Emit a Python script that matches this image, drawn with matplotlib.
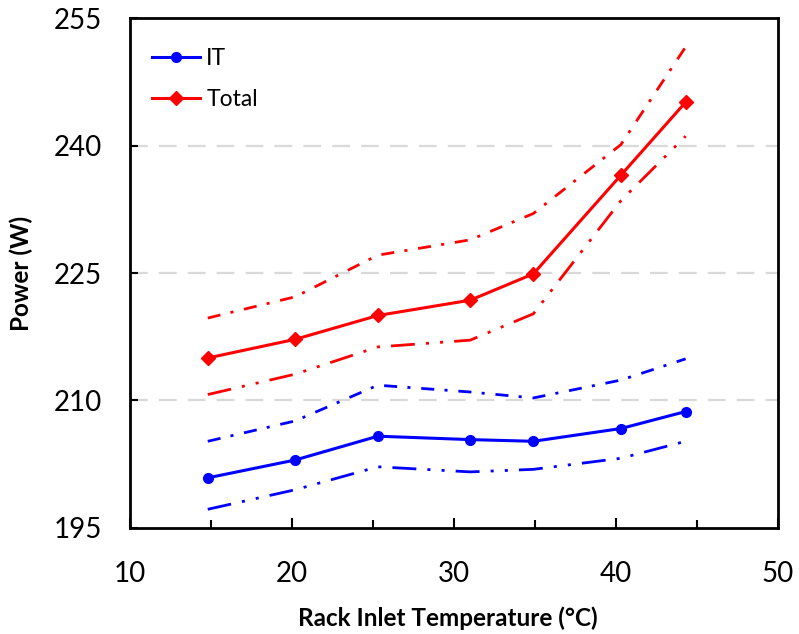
import matplotlib
matplotlib.use("Agg")
import matplotlib.pyplot as plt
from matplotlib.ticker import MultipleLocator

plt.rcParams['font.family'] = ['Lato', 'DejaVu Sans']

# Rack inlet temperature (°C)
temp = [14.8, 20.2, 25.3, 31.0, 34.9, 40.3, 44.3]

# IT power with upper / lower bounds (W)
it_mean = [200.9, 203.0, 205.8, 205.4, 205.2, 206.7, 208.7]
it_upper = [205.2, 207.6, 211.8, 211.0, 210.3, 212.4, 214.9]
it_lower = [197.2, 199.5, 202.2, 201.6, 201.9, 203.2, 205.2]

# Total power with upper / lower bounds (W)
tot_mean = [215.0, 217.2, 220.0, 221.8, 224.9, 236.5, 245.1]
tot_upper = [219.7, 222.2, 227.1, 228.9, 232.0, 240.1, 251.6]
tot_lower = [210.7, 213.1, 216.3, 217.1, 220.2, 233.5, 241.1]

xticks = [10, 20, 30, 40, 50]
yticks = [195, 210, 225, 240, 255]

BLUE = '#0000ff'
RED = '#ff0000'

fig = plt.figure(figsize=(7.99, 6.34), dpi=100)
ax = fig.add_axes([0.1627, 0.1672, 0.9737 - 0.1627, 0.9716 - 0.1672])

dash_dot = (0, (4.7, 3.7, 1.1, 3.9))
dash_dot_dot = (0, (8.6, 4, 1.1, 4, 1.1, 4))

ax.plot(temp, it_upper, color=BLUE, lw=2, linestyle=dash_dot)
ax.plot(temp, it_lower, color=BLUE, lw=2, linestyle=dash_dot_dot)
ax.plot(temp, tot_upper, color=RED, lw=2, linestyle=dash_dot)
ax.plot(temp, tot_lower, color=RED, lw=2, linestyle=dash_dot_dot)

ax.plot(temp, it_mean, color=BLUE, lw=2.2, marker='o', markersize=7, label='IT')
ax.plot(temp, tot_mean, color=RED, lw=2.2, marker='D', markersize=7.5, label='Total')

ax.set_xlim(10, 50)
ax.set_ylim(195, 255)
ax.set_xticks(xticks)
ax.set_yticks(yticks)
ax.xaxis.set_minor_locator(MultipleLocator(5))

for y in yticks[1:-1]:
    ax.axhline(y, color='#d9d9d9', lw=1.6, linestyle=(0, (8, 5)), zorder=0)

ax.tick_params(axis='both', which='both', direction='in', labelsize=20, colors='black')
ax.tick_params(axis='x', which='major', length=7, width=1.5, pad=24)
ax.tick_params(axis='x', which='minor', length=6, width=1.5)
ax.tick_params(axis='y', which='major', length=6, width=1.5, pad=20)
ax.tick_params(top=False, right=False, which='both')

for side in ax.spines.values():
    side.set_linewidth(2)
    side.set_color('black')

ax.set_xlabel('Rack Inlet Temperature (°C)', fontsize=17.5, fontweight='bold')
ax.set_ylabel('Power (W)', fontsize=17.5, fontweight='bold')
ax.xaxis.set_label_coords(0.49, -0.153)
ax.yaxis.set_label_coords(-0.150, 0.5)

ax.legend(loc='upper left', frameon=False, fontsize=16.5, handlelength=2.1,
          handletextpad=0.25, labelspacing=0.85, borderaxespad=0.8,
          bbox_to_anchor=(-0.008, 0.995))

fig.savefig('out.png', dpi=100)
